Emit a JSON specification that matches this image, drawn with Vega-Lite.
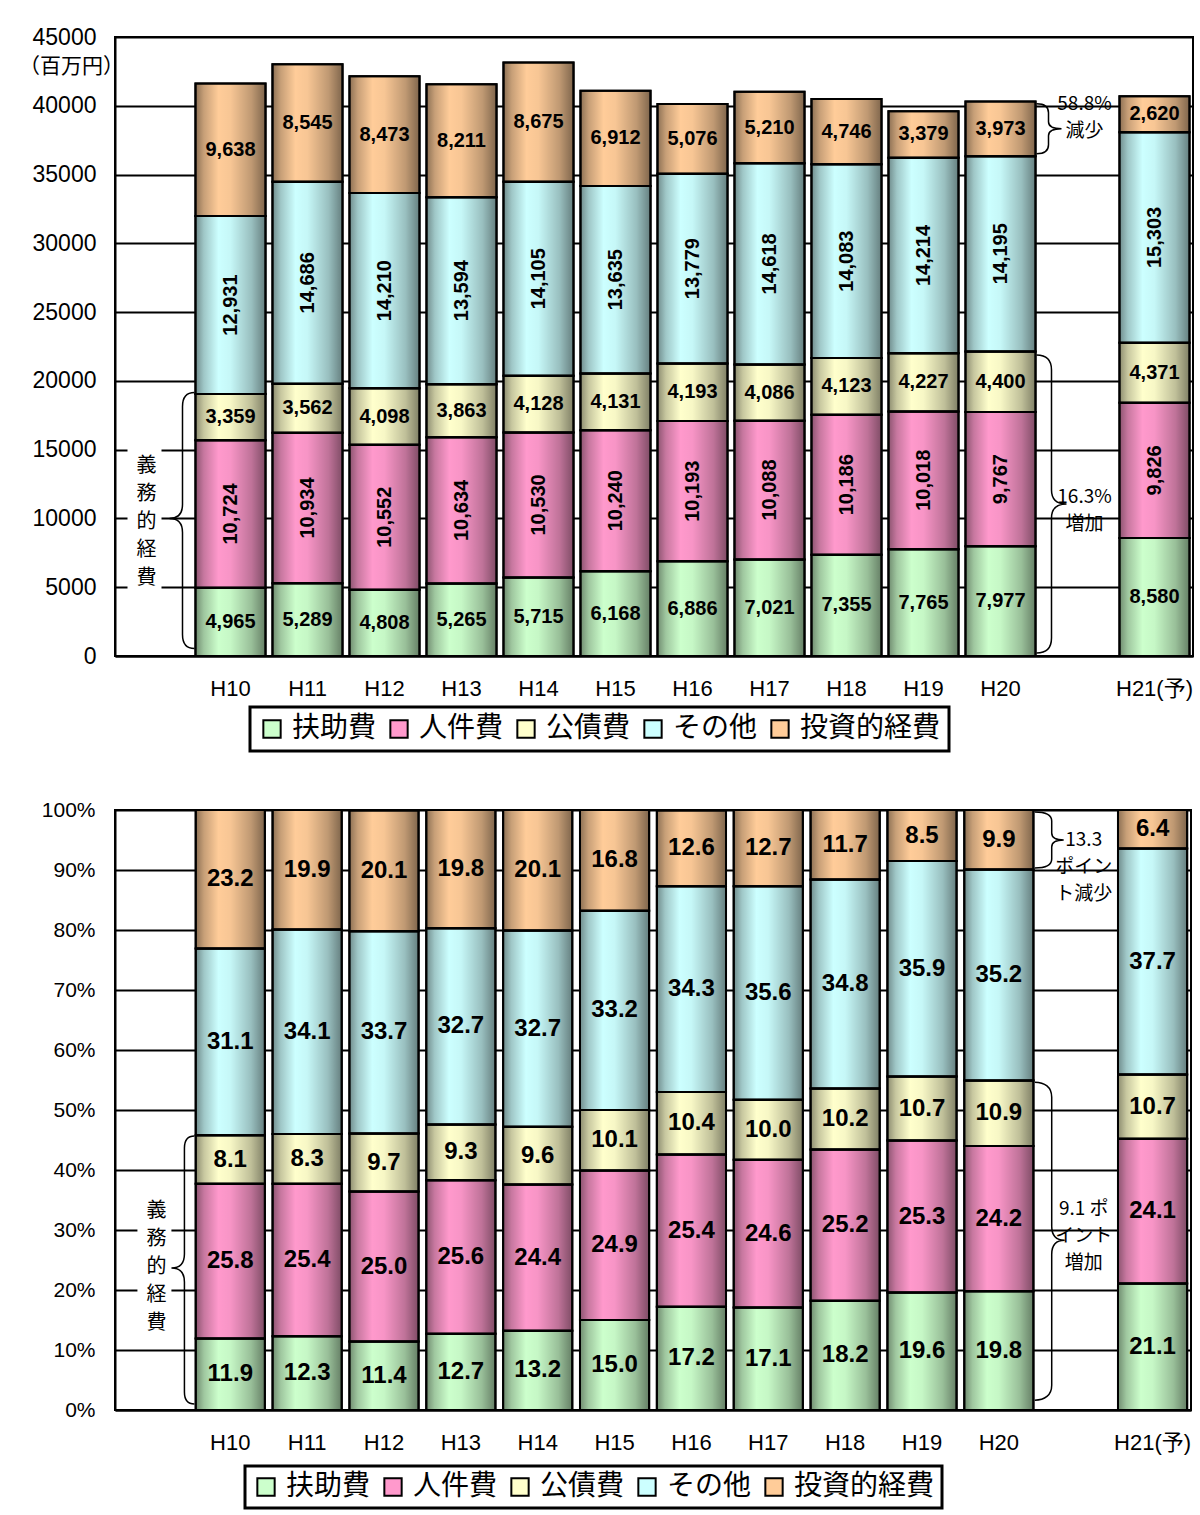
{
  "$schema": "https://vega.github.io/schema/vega-lite/v6.json",
  "padding": {"left": 17, "top": 25, "right": 0, "bottom": 0},
  "background": "white",
  "spacing": 44,
  "config": {
    "font": "Liberation Sans",
    "view": {"stroke": "black", "strokeWidth": 2},
    "axis": {"domainColor": "black", "domainWidth": 2, "gridColor": "black", "gridWidth": 2, "gridOpacity": 1, "ticks": false, "labelColor": "black", "labelFont": "Liberation Sans, Noto Sans CJK JP"}
  },
  "resolve": {"scale": {"color": "independent"}, "legend": {"color": "independent"}},
  "datasets": {
    "top": [
      {"year":"H10","cat":"扶助費","k":1,"v":4965},{"year":"H10","cat":"人件費","k":2,"v":10724},{"year":"H10","cat":"公債費","k":3,"v":3359},{"year":"H10","cat":"その他","k":4,"v":12931},{"year":"H10","cat":"投資的経費","k":5,"v":9638},
      {"year":"H11","cat":"扶助費","k":1,"v":5289},{"year":"H11","cat":"人件費","k":2,"v":10934},{"year":"H11","cat":"公債費","k":3,"v":3562},{"year":"H11","cat":"その他","k":4,"v":14686},{"year":"H11","cat":"投資的経費","k":5,"v":8545},
      {"year":"H12","cat":"扶助費","k":1,"v":4808},{"year":"H12","cat":"人件費","k":2,"v":10552},{"year":"H12","cat":"公債費","k":3,"v":4098},{"year":"H12","cat":"その他","k":4,"v":14210},{"year":"H12","cat":"投資的経費","k":5,"v":8473},
      {"year":"H13","cat":"扶助費","k":1,"v":5265},{"year":"H13","cat":"人件費","k":2,"v":10634},{"year":"H13","cat":"公債費","k":3,"v":3863},{"year":"H13","cat":"その他","k":4,"v":13594},{"year":"H13","cat":"投資的経費","k":5,"v":8211},
      {"year":"H14","cat":"扶助費","k":1,"v":5715},{"year":"H14","cat":"人件費","k":2,"v":10530},{"year":"H14","cat":"公債費","k":3,"v":4128},{"year":"H14","cat":"その他","k":4,"v":14105},{"year":"H14","cat":"投資的経費","k":5,"v":8675},
      {"year":"H15","cat":"扶助費","k":1,"v":6168},{"year":"H15","cat":"人件費","k":2,"v":10240},{"year":"H15","cat":"公債費","k":3,"v":4131},{"year":"H15","cat":"その他","k":4,"v":13635},{"year":"H15","cat":"投資的経費","k":5,"v":6912},
      {"year":"H16","cat":"扶助費","k":1,"v":6886},{"year":"H16","cat":"人件費","k":2,"v":10193},{"year":"H16","cat":"公債費","k":3,"v":4193},{"year":"H16","cat":"その他","k":4,"v":13779},{"year":"H16","cat":"投資的経費","k":5,"v":5076},
      {"year":"H17","cat":"扶助費","k":1,"v":7021},{"year":"H17","cat":"人件費","k":2,"v":10088},{"year":"H17","cat":"公債費","k":3,"v":4086},{"year":"H17","cat":"その他","k":4,"v":14618},{"year":"H17","cat":"投資的経費","k":5,"v":5210},
      {"year":"H18","cat":"扶助費","k":1,"v":7355},{"year":"H18","cat":"人件費","k":2,"v":10186},{"year":"H18","cat":"公債費","k":3,"v":4123},{"year":"H18","cat":"その他","k":4,"v":14083},{"year":"H18","cat":"投資的経費","k":5,"v":4746},
      {"year":"H19","cat":"扶助費","k":1,"v":7765},{"year":"H19","cat":"人件費","k":2,"v":10018},{"year":"H19","cat":"公債費","k":3,"v":4227},{"year":"H19","cat":"その他","k":4,"v":14214},{"year":"H19","cat":"投資的経費","k":5,"v":3379},
      {"year":"H20","cat":"扶助費","k":1,"v":7977},{"year":"H20","cat":"人件費","k":2,"v":9767},{"year":"H20","cat":"公債費","k":3,"v":4400},{"year":"H20","cat":"その他","k":4,"v":14195},{"year":"H20","cat":"投資的経費","k":5,"v":3973},
      {"year":"H21(予)","cat":"扶助費","k":1,"v":8580},{"year":"H21(予)","cat":"人件費","k":2,"v":9826},{"year":"H21(予)","cat":"公債費","k":3,"v":4371},{"year":"H21(予)","cat":"その他","k":4,"v":15303},{"year":"H21(予)","cat":"投資的経費","k":5,"v":2620}
    ],
    "pct": [
      {"year":"H10","cat":"扶助費","k":1,"v":11.9},{"year":"H10","cat":"人件費","k":2,"v":25.8},{"year":"H10","cat":"公債費","k":3,"v":8.1},{"year":"H10","cat":"その他","k":4,"v":31.1},{"year":"H10","cat":"投資的経費","k":5,"v":23.2},
      {"year":"H11","cat":"扶助費","k":1,"v":12.3},{"year":"H11","cat":"人件費","k":2,"v":25.4},{"year":"H11","cat":"公債費","k":3,"v":8.3},{"year":"H11","cat":"その他","k":4,"v":34.1},{"year":"H11","cat":"投資的経費","k":5,"v":19.9},
      {"year":"H12","cat":"扶助費","k":1,"v":11.4},{"year":"H12","cat":"人件費","k":2,"v":25.0},{"year":"H12","cat":"公債費","k":3,"v":9.7},{"year":"H12","cat":"その他","k":4,"v":33.7},{"year":"H12","cat":"投資的経費","k":5,"v":20.1},
      {"year":"H13","cat":"扶助費","k":1,"v":12.7},{"year":"H13","cat":"人件費","k":2,"v":25.6},{"year":"H13","cat":"公債費","k":3,"v":9.3},{"year":"H13","cat":"その他","k":4,"v":32.7},{"year":"H13","cat":"投資的経費","k":5,"v":19.8},
      {"year":"H14","cat":"扶助費","k":1,"v":13.2},{"year":"H14","cat":"人件費","k":2,"v":24.4},{"year":"H14","cat":"公債費","k":3,"v":9.6},{"year":"H14","cat":"その他","k":4,"v":32.7},{"year":"H14","cat":"投資的経費","k":5,"v":20.1},
      {"year":"H15","cat":"扶助費","k":1,"v":15.0},{"year":"H15","cat":"人件費","k":2,"v":24.9},{"year":"H15","cat":"公債費","k":3,"v":10.1},{"year":"H15","cat":"その他","k":4,"v":33.2},{"year":"H15","cat":"投資的経費","k":5,"v":16.8},
      {"year":"H16","cat":"扶助費","k":1,"v":17.2},{"year":"H16","cat":"人件費","k":2,"v":25.4},{"year":"H16","cat":"公債費","k":3,"v":10.4},{"year":"H16","cat":"その他","k":4,"v":34.3},{"year":"H16","cat":"投資的経費","k":5,"v":12.6},
      {"year":"H17","cat":"扶助費","k":1,"v":17.1},{"year":"H17","cat":"人件費","k":2,"v":24.6},{"year":"H17","cat":"公債費","k":3,"v":10.0},{"year":"H17","cat":"その他","k":4,"v":35.6},{"year":"H17","cat":"投資的経費","k":5,"v":12.7},
      {"year":"H18","cat":"扶助費","k":1,"v":18.2},{"year":"H18","cat":"人件費","k":2,"v":25.2},{"year":"H18","cat":"公債費","k":3,"v":10.2},{"year":"H18","cat":"その他","k":4,"v":34.8},{"year":"H18","cat":"投資的経費","k":5,"v":11.7},
      {"year":"H19","cat":"扶助費","k":1,"v":19.6},{"year":"H19","cat":"人件費","k":2,"v":25.3},{"year":"H19","cat":"公債費","k":3,"v":10.7},{"year":"H19","cat":"その他","k":4,"v":35.9},{"year":"H19","cat":"投資的経費","k":5,"v":8.5},
      {"year":"H20","cat":"扶助費","k":1,"v":19.8},{"year":"H20","cat":"人件費","k":2,"v":24.2},{"year":"H20","cat":"公債費","k":3,"v":10.9},{"year":"H20","cat":"その他","k":4,"v":35.2},{"year":"H20","cat":"投資的経費","k":5,"v":9.9},
      {"year":"H21(予)","cat":"扶助費","k":1,"v":21.1},{"year":"H21(予)","cat":"人件費","k":2,"v":24.1},{"year":"H21(予)","cat":"公債費","k":3,"v":10.7},{"year":"H21(予)","cat":"その他","k":4,"v":37.7},{"year":"H21(予)","cat":"投資的経費","k":5,"v":6.4}
    ],
    "annTop": [
      {"id":"gimu","x":"s1","y":13810,"t":"義\n務\n的\n経\n費"},
      {"id":"gen","x":"s2","y":40130,"t":"58.8%\n減少"},
      {"id":"zou","x":"s2","y":11560,"t":"16.3%\n増加"},
      {"id":"bL","x":"s1","y":10000},
      {"id":"bU","x":"s2","y":38325},
      {"id":"bD","x":"s2","y":11050},
      {"id":"box","x":"s1","y":4700,"y2":15300}
    ],
    "annBot": [
      {"id":"gimu","x":"s1","y":33.2,"t":"義\n務\n的\n経\n費"},
      {"id":"gen","x":"s2","y":95.0,"t":"13.3\nポイン\nト減少"},
      {"id":"zou","x":"s2","y":33.5,"t":"9.1 ポ\nイント\n増加"},
      {"id":"bL","x":"s1","y":23.67},
      {"id":"bU","x":"s2","y":95},
      {"id":"bD","x":"s2","y":28.3},
      {"id":"box","x":"s1","y":13,"y2":35}
    ]
  },
  "vconcat": [
    {
      "width": 1078,
      "height": 619,
      "resolve": {"axis": {"x": "independent", "y": "independent"}},
      "layer": [
        {
          "data": {"name": "top"},
          "mark": {"type": "bar", "stroke": "black", "strokeWidth": 2},
          "encoding": {
            "x": {"field": "year", "type": "nominal", "sort": null,
                  "scale": {"domain": ["s1","H10","H11","H12","H13","H14","H15","H16","H17","H18","H19","H20","s2","H21(予)"], "paddingInner": 0.09, "paddingOuter": 0.045},
                  "axis": {"title": null, "labelAngle": 0, "labelFontSize": 22, "labelPadding": 22, "grid": false,
                           "labelExpr": "datum.value == 's1' || datum.value == 's2' ? '' : datum.value"}},
            "y": {"field": "v", "type": "quantitative", "stack": "zero",
                  "scale": {"domain": [0, 45000]},
                  "axis": {"values": [0,5000,10000,15000,20000,25000,30000,35000,40000,45000], "format": "d",
                           "labelFontSize": 23, "labelPadding": 19, "grid": true,
                           "title": "（百万円）", "titleAngle": 0, "titleX": -44, "titleY": 29, "titleAlign": "center", "titleBaseline": "middle",
                           "titleFont": "Noto Sans CJK JP", "titleFontSize": 21, "titleFontWeight": "normal", "titleColor": "black"}},
            "color": {"field": "cat", "type": "nominal",
                      "scale": {"domain": ["扶助費","人件費","公債費","その他","投資的経費"], "range": ["#ccffcc","#ff99cc","#ffffcc","#ccffff","#ffcc99"]},
                      "legend": {"orient": "none", "legendX": 135, "legendY": 670, "direction": "horizontal", "columns": 5, "title": null,
                                 "symbolType": "square", "symbolSize": 300, "symbolStrokeColor": "black", "symbolStrokeWidth": 2, "symbolOpacity": 1,
                                 "labelFont": "Noto Sans CJK JP", "labelFontSize": 28, "labelColor": "black", "labelOffset": 6, "columnPadding": 8,
                                 "padding": 8, "strokeColor": "black", "fillColor": "white",
                                 "encode": {"legend": {"update": {"strokeWidth": {"value": 3}}}}}},
            "order": {"field": "k", "type": "quantitative"}
          }
        },
        {
          "data": {"name": "annTop"},
          "transform": [{"filter": "datum.id == 'box'"}],
          "mark": {"type": "bar", "fill": "white", "stroke": null, "width": 34, "xOffset": -9},
          "encoding": {
            "x": {"field": "x", "type": "nominal", "axis": null},
            "y": {"field": "y", "type": "quantitative", "axis": null},
            "y2": {"field": "y2"}
          }
        },
        {
          "data": {"name": "top"},
          "mark": {"type": "bar", "stroke": "black", "strokeWidth": 2,
                   "fill": {"gradient": "linear", "x1": 0, "y1": 0, "x2": 1, "y2": 0,
                            "stops": [{"offset": 0, "color": "rgba(0,0,0,0.45)"}, {"offset": 0.12, "color": "rgba(0,0,0,0.22)"}, {"offset": 0.33, "color": "rgba(0,0,0,0)"}, {"offset": 0.5, "color": "rgba(0,0,0,0.03)"}, {"offset": 0.8, "color": "rgba(0,0,0,0.25)"}, {"offset": 1, "color": "rgba(0,0,0,0.5)"}]}},
          "encoding": {
            "x": {"field": "year", "type": "nominal", "sort": null, "axis": null},
            "y": {"field": "v", "type": "quantitative", "stack": "zero", "axis": null},
            "detail": {"field": "cat"},
            "order": {"field": "k", "type": "quantitative"}
          }
        },
        {
          "data": {"name": "top"},
          "transform": [
            {"stack": "v", "groupby": ["year"], "sort": [{"field": "k"}], "as": ["v0", "v1"]},
            {"fold": ["v0", "v1"], "as": ["edge", "pos"]},
            {"aggregate": [{"op": "mean", "field": "pos", "as": "mid"}], "groupby": ["year", "cat", "v"]},
            {"filter": {"field": "cat", "oneOf": ["扶助費", "公債費", "投資的経費"]}}
          ],
          "mark": {"type": "text", "font": "Liberation Sans", "fontWeight": "bold", "fontSize": 20, "color": "black", "align": "center", "baseline": "middle"},
          "encoding": {
            "x": {"field": "year", "type": "nominal", "sort": null, "axis": null},
            "y": {"field": "mid", "type": "quantitative", "axis": null},
            "text": {"field": "v", "type": "quantitative", "format": ","}
          }
        },
        {
          "data": {"name": "top"},
          "transform": [
            {"stack": "v", "groupby": ["year"], "sort": [{"field": "k"}], "as": ["v0", "v1"]},
            {"fold": ["v0", "v1"], "as": ["edge", "pos"]},
            {"aggregate": [{"op": "mean", "field": "pos", "as": "mid"}], "groupby": ["year", "cat", "v"]},
            {"filter": {"field": "cat", "oneOf": ["人件費", "その他"]}}
          ],
          "mark": {"type": "text", "font": "Liberation Sans", "fontWeight": "bold", "fontSize": 20, "color": "black", "align": "center", "baseline": "middle", "angle": 270},
          "encoding": {
            "x": {"field": "year", "type": "nominal", "sort": null, "axis": null},
            "y": {"field": "mid", "type": "quantitative", "axis": null},
            "text": {"field": "v", "type": "quantitative", "format": ","}
          }
        },
        {
          "data": {"name": "annTop"},
          "transform": [{"filter": "datum.id == 'gimu'"}],
          "mark": {"type": "text", "font": "Noto Sans CJK JP", "fontSize": 20, "lineHeight": 28, "lineBreak": "\n", "color": "black", "align": "center", "baseline": "middle", "dx": -7},
          "encoding": {
            "x": {"field": "x", "type": "nominal", "axis": null},
            "y": {"field": "y", "type": "quantitative", "axis": null},
            "text": {"field": "t"}
          }
        },
        {
          "data": {"name": "annTop"},
          "transform": [{"filter": "datum.id == 'gen' || datum.id == 'zou'"}],
          "mark": {"type": "text", "font": "Noto Sans CJK JP", "fontSize": 19, "lineHeight": 27, "lineBreak": "\n", "color": "black", "align": "center", "baseline": "middle", "dx": 7},
          "encoding": {
            "x": {"field": "x", "type": "nominal", "axis": null},
            "y": {"field": "y", "type": "quantitative", "axis": null},
            "text": {"field": "t"}
          }
        },
        {
          "data": {"name": "annTop"},
          "transform": [{"filter": "datum.id == 'bL'"}],
          "mark": {"type": "point", "shape": "M41,-126C33,-126 29,-122 29,-112L29,-14C29,-4 24,0 16,0C24,0 29,4 29,14L29,116C29,126 33,130 41,130", "size": 4, "filled": false, "stroke": "black", "strokeWidth": 1.5, "opacity": 1},
          "encoding": {
            "x": {"field": "x", "type": "nominal", "axis": null},
            "y": {"field": "y", "type": "quantitative", "axis": null}
          }
        },
        {
          "data": {"name": "annTop"},
          "transform": [{"filter": "datum.id == 'bU'"}],
          "mark": {"type": "point", "shape": "M-41,-25C-33,-25 -29,-22 -29,-16L-29,-7C-29,-2 -24,0 -16,0C-24,0 -29,2 -29,7L-29,16C-29,22 -33,25 -41,25", "size": 4, "filled": false, "stroke": "black", "strokeWidth": 1.5, "opacity": 1},
          "encoding": {
            "x": {"field": "x", "type": "nominal", "axis": null},
            "y": {"field": "y", "type": "quantitative", "axis": null}
          }
        },
        {
          "data": {"name": "annTop"},
          "transform": [{"filter": "datum.id == 'bD'"}],
          "mark": {"type": "point", "shape": "M-41,-149C-31,-149 -26,-144 -26,-134L-26,-14C-26,-4 -20,0 -11,0C-20,0 -26,4 -26,14L-26,134C-26,144 -31,149 -41,149", "size": 4, "filled": false, "stroke": "black", "strokeWidth": 1.5, "opacity": 1},
          "encoding": {
            "x": {"field": "x", "type": "nominal", "axis": null},
            "y": {"field": "y", "type": "quantitative", "axis": null}
          }
        }
      ]
    },
    {
      "width": 1076,
      "height": 600,
      "resolve": {"axis": {"x": "independent", "y": "independent"}},
      "layer": [
        {
          "data": {"name": "pct"},
          "mark": {"type": "bar", "stroke": "black", "strokeWidth": 2},
          "encoding": {
            "x": {"field": "year", "type": "nominal", "sort": null,
                  "scale": {"domain": ["s1","H10","H11","H12","H13","H14","H15","H16","H17","H18","H19","H20","s2","H21(予)"], "paddingInner": 0.1, "paddingOuter": 0.05},
                  "axis": {"title": null, "labelAngle": 0, "labelFontSize": 22, "labelPadding": 22, "grid": false,
                           "labelExpr": "datum.value == 's1' || datum.value == 's2' ? '' : datum.value"}},
            "y": {"field": "v", "type": "quantitative", "stack": "zero",
                  "scale": {"domain": [0, 100], "clamp": true},
                  "axis": {"values": [0,10,20,30,40,50,60,70,80,90,100], "labelExpr": "datum.value + '%'",
                           "labelFontSize": 21, "labelPadding": 20, "grid": true, "title": null}},
            "color": {"field": "cat", "type": "nominal",
                      "scale": {"domain": ["扶助費","人件費","公債費","その他","投資的経費"], "range": ["#ccffcc","#ff99cc","#ffffcc","#ccffff","#ffcc99"]},
                      "legend": {"orient": "none", "legendX": 130, "legendY": 656, "direction": "horizontal", "columns": 5, "title": null,
                                 "symbolType": "square", "symbolSize": 300, "symbolStrokeColor": "black", "symbolStrokeWidth": 2, "symbolOpacity": 1,
                                 "labelFont": "Noto Sans CJK JP", "labelFontSize": 28, "labelColor": "black", "labelOffset": 6, "columnPadding": 8,
                                 "padding": 7, "strokeColor": "black", "fillColor": "white",
                                 "encode": {"legend": {"update": {"strokeWidth": {"value": 3}}}}}},
            "order": {"field": "k", "type": "quantitative"}
          }
        },
        {
          "data": {"name": "annBot"},
          "transform": [{"filter": "datum.id == 'box'"}],
          "mark": {"type": "bar", "fill": "white", "stroke": null, "width": 34, "xOffset": 1},
          "encoding": {
            "x": {"field": "x", "type": "nominal", "axis": null},
            "y": {"field": "y", "type": "quantitative", "axis": null},
            "y2": {"field": "y2"}
          }
        },
        {
          "data": {"name": "pct"},
          "mark": {"type": "bar", "stroke": "black", "strokeWidth": 2,
                   "fill": {"gradient": "linear", "x1": 0, "y1": 0, "x2": 1, "y2": 0,
                            "stops": [{"offset": 0, "color": "rgba(0,0,0,0.45)"}, {"offset": 0.12, "color": "rgba(0,0,0,0.22)"}, {"offset": 0.33, "color": "rgba(0,0,0,0)"}, {"offset": 0.5, "color": "rgba(0,0,0,0.03)"}, {"offset": 0.8, "color": "rgba(0,0,0,0.25)"}, {"offset": 1, "color": "rgba(0,0,0,0.5)"}]}},
          "encoding": {
            "x": {"field": "year", "type": "nominal", "sort": null, "axis": null},
            "y": {"field": "v", "type": "quantitative", "stack": "zero", "axis": null},
            "detail": {"field": "cat"},
            "order": {"field": "k", "type": "quantitative"}
          }
        },
        {
          "data": {"name": "pct"},
          "transform": [
            {"stack": "v", "groupby": ["year"], "sort": [{"field": "k"}], "as": ["v0", "v1"]},
            {"fold": ["v0", "v1"], "as": ["edge", "pos"]},
            {"aggregate": [{"op": "mean", "field": "pos", "as": "mid"}], "groupby": ["year", "cat", "v"]}
          ],
          "mark": {"type": "text", "font": "Liberation Sans", "fontWeight": "bold", "fontSize": 24, "color": "black", "align": "center", "baseline": "middle"},
          "encoding": {
            "x": {"field": "year", "type": "nominal", "sort": null, "axis": null},
            "y": {"field": "mid", "type": "quantitative", "axis": null},
            "text": {"field": "v", "type": "quantitative", "format": ".1f"}
          }
        },
        {
          "data": {"name": "annBot"},
          "transform": [{"filter": "datum.id == 'gimu'"}],
          "mark": {"type": "text", "font": "Noto Sans CJK JP", "fontSize": 20, "lineHeight": 28, "lineBreak": "\n", "color": "black", "align": "center", "baseline": "middle", "dx": 3},
          "encoding": {
            "x": {"field": "x", "type": "nominal", "axis": null},
            "y": {"field": "y", "type": "quantitative", "axis": null},
            "text": {"field": "t"}
          }
        },
        {
          "data": {"name": "annBot"},
          "transform": [{"filter": "datum.id == 'gen' || datum.id == 'zou'"}],
          "mark": {"type": "text", "font": "Noto Sans CJK JP", "fontSize": 19, "lineHeight": 27, "lineBreak": "\n", "color": "black", "align": "center", "baseline": "middle", "dx": 8},
          "encoding": {
            "x": {"field": "x", "type": "nominal", "axis": null},
            "y": {"field": "y", "type": "quantitative", "axis": null},
            "text": {"field": "t"}
          }
        },
        {
          "data": {"name": "annBot"},
          "transform": [{"filter": "datum.id == 'bL'"}],
          "mark": {"type": "point", "shape": "M41,-132C35,-132 31,-128 31,-120L31,-14C31,-4 26,0 18,0C26,0 31,4 31,14L31,124C31,132 35,136 41,136", "size": 4, "filled": false, "stroke": "black", "strokeWidth": 1.5, "opacity": 1},
          "encoding": {
            "x": {"field": "x", "type": "nominal", "axis": null},
            "y": {"field": "y", "type": "quantitative", "axis": null}
          }
        },
        {
          "data": {"name": "annBot"},
          "transform": [{"filter": "datum.id == 'bU'"}],
          "mark": {"type": "point", "shape": "M-41,-28C-30,-28 -24,-25 -24,-19L-24,-7C-24,-2 -19,0 -12,0C-19,0 -24,2 -24,7L-24,19C-24,25 -30,28 -41,28", "size": 4, "filled": false, "stroke": "black", "strokeWidth": 1.5, "opacity": 1},
          "encoding": {
            "x": {"field": "x", "type": "nominal", "axis": null},
            "y": {"field": "y", "type": "quantitative", "axis": null}
          }
        },
        {
          "data": {"name": "annBot"},
          "transform": [{"filter": "datum.id == 'bD'"}],
          "mark": {"type": "point", "shape": "M-41,-158C-31,-158 -24,-153 -24,-143L-24,-14C-24,-4 -19,0 -11,0C-19,0 -24,4 -24,14L-24,145C-24,155 -31,160 -41,160", "size": 4, "filled": false, "stroke": "black", "strokeWidth": 1.5, "opacity": 1},
          "encoding": {
            "x": {"field": "x", "type": "nominal", "axis": null},
            "y": {"field": "y", "type": "quantitative", "axis": null}
          }
        }
      ]
    }
  ]
}
